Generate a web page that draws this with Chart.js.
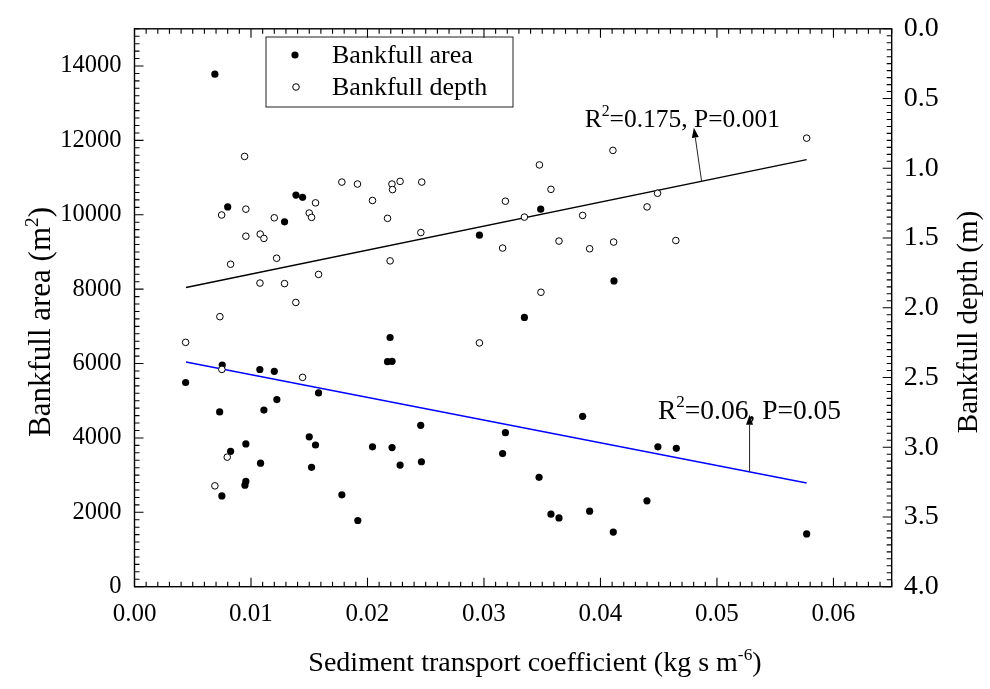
<!DOCTYPE html>
<html>
<head>
<meta charset="utf-8">
<script src="https://cdn.jsdelivr.net/npm/chart.js@4.4.1/dist/chart.umd.min.js"></script>
<style>
  html, body { margin: 0; padding: 0; background: #fff; }
  #wrap { width: 990px; height: 689px; }
</style>
</head>
<body>
<div id="wrap"><canvas id="c" width="990" height="689"></canvas></div>
<script>
// Sediment transport coefficient (x) for the bankfull area points
const areaX = [0.0069, 0.0080, 0.01386, 0.01443, 0.01288, 0.03487, 0.02961, 0.04116, 0.03347,
  0.00439, 0.00753, 0.01076, 0.0120, 0.02194, 0.02172, 0.02211, 0.0158, 0.01222, 0.01111, 0.00731,
  0.02457, 0.0150, 0.01554, 0.00956, 0.02043, 0.02211, 0.00825, 0.01082, 0.0152, 0.0228, 0.02463,
  0.00956, 0.00948, 0.0075, 0.0178, 0.01917, 0.03847, 0.03184, 0.0316, 0.04493, 0.04651, 0.03473,
  0.04399, 0.03575, 0.03644, 0.03907, 0.0411, 0.0577];
// Bankfull area (m2)
const areaY = [13780, 10210, 10530, 10470, 9810, 10150, 9450, 8220, 7240,
  5490, 5960, 5840, 5790, 6700, 6050, 6060, 5210, 5030, 4750, 4700,
  4340, 4030, 3810, 3840, 3760, 3740, 3640, 3320, 3210, 3270, 3360,
  2830, 2730, 2440, 2470, 1780, 4580, 4140, 3580, 3760, 3720, 2940,
  2310, 1950, 1850, 2030, 1470, 1420];

// Sediment transport coefficient (x) for the bankfull depth points
const depthX = [0.00945, 0.00748, 0.00956, 0.0178, 0.01914, 0.0221, 0.02215, 0.0228, 0.02466,
  0.02043, 0.01554, 0.0150, 0.0152, 0.0120, 0.02172, 0.00956, 0.01079, 0.01111, 0.02458, 0.00825,
  0.0122, 0.02194, 0.0158, 0.01077, 0.01288, 0.01385, 0.00733, 0.04107, 0.03476, 0.03575, 0.03184,
  0.03347, 0.03847, 0.0440, 0.0449, 0.0316, 0.03644, 0.03907, 0.04113, 0.04647, 0.03489, 0.0577,
  0.00439, 0.0075, 0.01443, 0.00796, 0.0069, 0.02961];
// Bankfull depth (m)
const depthY = [0.915, 1.335, 1.293, 1.099, 1.113, 1.113, 1.153, 1.094, 1.099,
  1.231, 1.248, 1.321, 1.352, 1.355, 1.359, 1.487, 1.472, 1.503, 1.461, 1.688,
  1.645, 1.664, 1.761, 1.823, 1.827, 1.962, 2.064, 0.872, 0.976, 1.151, 1.236,
  1.350, 1.338, 1.277, 1.179, 1.572, 1.522, 1.577, 1.529, 1.518, 1.889, 0.784,
  2.248, 2.442, 2.499, 3.071, 3.277, 2.252];

// regression lines (end points)
const fitX = [0.00442, 0.0577];
const depthFit = [1.855, 0.938];
const areaFit = [6040, 2790];

// tick labels
const xTicks = [0, 0.01, 0.02, 0.03, 0.04, 0.05, 0.06];
const areaTicks = [0, 2000, 4000, 6000, 8000, 10000, 12000, 14000];
const depthTicks = [0, 0.5, 1, 1.5, 2, 2.5, 3, 3.5, 4];

// annotations
const depthNote = { text: '=0.175, P=0.001', arrowX: 0.04868, tipX: 0.04802, tipY: 0.709, textX: 0.03864, textY: 0.702, size: 25.5 };
const areaNote = { text: '=0.06, P=0.05', arrowX: 0.0528, tipX: 0.0528, tipY: 4620, textX: 0.04493, textY: 4516, size: 27.5 };

const serif = '"Liberation Serif", "Times New Roman", serif';

function pts(xs, ys) { return xs.map((x, i) => ({ x: x, y: ys[i] })); }
function fitAt(ys, x) { return ys[0] + (ys[1] - ys[0]) * (x - fitX[0]) / (fitX[1] - fitX[0]); }

// text cu indice superior, centrat pe x
function richText(ctx, parts, x, y, size) {
  let w = 0;
  parts.forEach(p => { ctx.font = (p.sup ? size * 0.62 : size) + 'px ' + serif; w += ctx.measureText(p.t).width; });
  let cx = x - w / 2;
  parts.forEach(p => {
    ctx.font = (p.sup ? size * 0.62 : size) + 'px ' + serif;
    ctx.fillText(p.t, cx, p.sup ? y - size * 0.4 : y);
    cx += ctx.measureText(p.t).width;
  });
}

function arrow(ctx, x1, y1, x2, y2) {
  const ang = Math.atan2(y2 - y1, x2 - x1), L = 10, W = 3.5;
  const bx = x2 - L * Math.cos(ang), by = y2 - L * Math.sin(ang);
  ctx.beginPath(); ctx.moveTo(x1, y1); ctx.lineTo(bx, by); ctx.stroke();
  ctx.beginPath();
  ctx.moveTo(x2, y2);
  ctx.lineTo(bx + W * Math.sin(ang), by - W * Math.cos(ang));
  ctx.lineTo(bx - W * Math.sin(ang), by + W * Math.cos(ang));
  ctx.closePath(); ctx.fill();
}

const decor = {
  id: 'decor',
  afterDraw(chart) {
    const { ctx, chartArea: a, scales } = chart;
    const sx = scales.x, sy = scales.y, sy2 = scales.y2;
    ctx.save();
    ctx.strokeStyle = '#000'; ctx.fillStyle = '#000'; ctx.lineWidth = 1.4;
    ctx.strokeRect(a.left, a.top, a.right - a.left, a.bottom - a.top);

    // tick-uri interioare (majore + minore)
    ctx.lineWidth = 1.1;
    ctx.beginPath();
    for (let i = 0; i <= 65; i++) {
      const px = sx.getPixelForValue(i * 0.001);
      const len = i % 10 === 0 ? 9 : 5;
      ctx.moveTo(px, a.bottom); ctx.lineTo(px, a.bottom - len);
      ctx.moveTo(px, a.top); ctx.lineTo(px, a.top + len);
    }
    for (let i = 0; i <= 75; i++) {
      const py = sy.getPixelForValue(i * 200);
      const len = i % 10 === 0 ? 9 : 5;
      ctx.moveTo(a.left, py); ctx.lineTo(a.left + len, py);
    }
    for (let i = 0; i <= 80; i++) {
      const py = sy2.getPixelForValue(i * 0.05);
      const len = i % 10 === 0 ? 9 : 5;
      ctx.moveTo(a.right, py); ctx.lineTo(a.right - len, py);
    }
    ctx.stroke();

    // titluri axe
    ctx.fillStyle = '#000'; ctx.textBaseline = 'alphabetic'; ctx.textAlign = 'left';
    richText(ctx, [{ t: 'Sediment transport coefficient (kg s m' }, { t: '-6', sup: true }, { t: ')' }], 535, 671, 28);
    ctx.save(); ctx.translate(50, 322); ctx.rotate(-Math.PI / 2);
    richText(ctx, [{ t: 'Bankfull area (m' }, { t: '2', sup: true }, { t: ')' }], 0, 0, 31);
    ctx.restore();
    ctx.save(); ctx.translate(977, 322); ctx.rotate(-Math.PI / 2);
    richText(ctx, [{ t: 'Bankfull depth (m)' }], 0, 0, 29);
    ctx.restore();

    // legenda
    ctx.strokeStyle = '#222'; ctx.lineWidth = 1;
    ctx.strokeRect(266, 37, 247, 70);
    ctx.beginPath(); ctx.arc(295, 55, 3.6, 0, Math.PI * 2); ctx.fillStyle = '#000'; ctx.fill();
    ctx.beginPath(); ctx.arc(296, 87, 3.3, 0, Math.PI * 2); ctx.fillStyle = '#fff'; ctx.fill();
    ctx.strokeStyle = '#000'; ctx.stroke();
    ctx.fillStyle = '#000'; ctx.font = '26px ' + serif; ctx.textBaseline = 'middle';
    ctx.fillText('Bankfull area', 332, 56);
    ctx.fillText('Bankfull depth', 332, 88);

    // adnotari R2 cu sageti
    ctx.textBaseline = 'alphabetic';
    ctx.strokeStyle = '#222'; ctx.fillStyle = '#000'; ctx.lineWidth = 1;
    const bx1 = sx.getPixelForValue(depthNote.arrowX), by1 = sy2.getPixelForValue(fitAt(depthFit, depthNote.arrowX));
    arrow(ctx, bx1, by1, sx.getPixelForValue(depthNote.tipX), sy2.getPixelForValue(depthNote.tipY));
    const bx2 = sx.getPixelForValue(areaNote.arrowX), by2 = sy.getPixelForValue(fitAt(areaFit, areaNote.arrowX));
    arrow(ctx, bx2, by2, sx.getPixelForValue(areaNote.tipX), sy.getPixelForValue(areaNote.tipY));

    [[depthNote, sy2], [areaNote, sy]].forEach(([n, s]) => {
      let x = sx.getPixelForValue(n.textX), y = s.getPixelForValue(n.textY);
      ctx.font = n.size + 'px ' + serif; ctx.fillText('R', x, y); x += ctx.measureText('R').width;
      ctx.font = (n.size * 0.62) + 'px ' + serif; ctx.fillText('2', x, y - n.size * 0.42); x += ctx.measureText('2').width;
      ctx.font = n.size + 'px ' + serif; ctx.fillText(n.text, x, y);
    });
    ctx.restore();
  }
};

new Chart(document.getElementById('c'), {
  type: 'scatter',
  data: {
    datasets: [
      { label: 'Bankfull depth', data: pts(depthX, depthY), yAxisID: 'y2', pointRadius: 3.3,
        pointBackgroundColor: '#fff', pointBorderColor: '#000', pointBorderWidth: 1, order: 1 },
      { label: 'Bankfull area', data: pts(areaX, areaY), yAxisID: 'y', pointRadius: 3.6,
        pointBackgroundColor: '#000', pointBorderColor: '#000', pointBorderWidth: 0, order: 2 },
      { type: 'line', label: 'fit depth', data: pts(fitX, depthFit), yAxisID: 'y2', borderColor: '#000',
        borderWidth: 1.5, pointRadius: 0, fill: false, order: 3 },
      { type: 'line', label: 'fit area', data: pts(fitX, areaFit), yAxisID: 'y', borderColor: '#0000ff',
        borderWidth: 1.5, pointRadius: 0, fill: false, order: 3 }
    ]
  },
  options: {
    responsive: false,
    devicePixelRatio: 1,
    animation: false,
    layout: { padding: { left: 0, right: 0, top: 23, bottom: 0 } },
    plugins: { legend: { display: false }, tooltip: { enabled: false } },
    scales: {
      x: {
        type: 'linear', min: 0, max: 0.065,
        grid: { display: false, drawTicks: false }, border: { display: false },
        afterBuildTicks: s => { s.ticks = xTicks.map(v => ({ value: v })); },
        afterFit: s => { s.height = 102.3; },
        ticks: { padding: 13, color: '#000', font: { family: serif, size: 25 }, callback: v => v.toFixed(2) }
      },
      y: {
        type: 'linear', position: 'left', min: 0, max: 15000,
        grid: { display: false, drawTicks: false }, border: { display: false },
        afterBuildTicks: s => { s.ticks = areaTicks.map(v => ({ value: v })); },
        afterFit: s => { s.width = 134.5; },
        ticks: { padding: 13, color: '#000', font: { family: serif, size: 24.5 }, callback: v => String(v) }
      },
      y2: {
        type: 'linear', position: 'right', min: 0, max: 4, reverse: true,
        grid: { display: false, drawTicks: false }, border: { display: false },
        afterBuildTicks: s => { s.ticks = depthTicks.map(v => ({ value: v })); },
        afterFit: s => { s.width = 98.3; },
        ticks: { padding: 12, color: '#000', font: { family: serif, size: 28 }, callback: v => v.toFixed(1) }
      }
    }
  },
  plugins: [decor]
});
</script>
</body>
</html>
